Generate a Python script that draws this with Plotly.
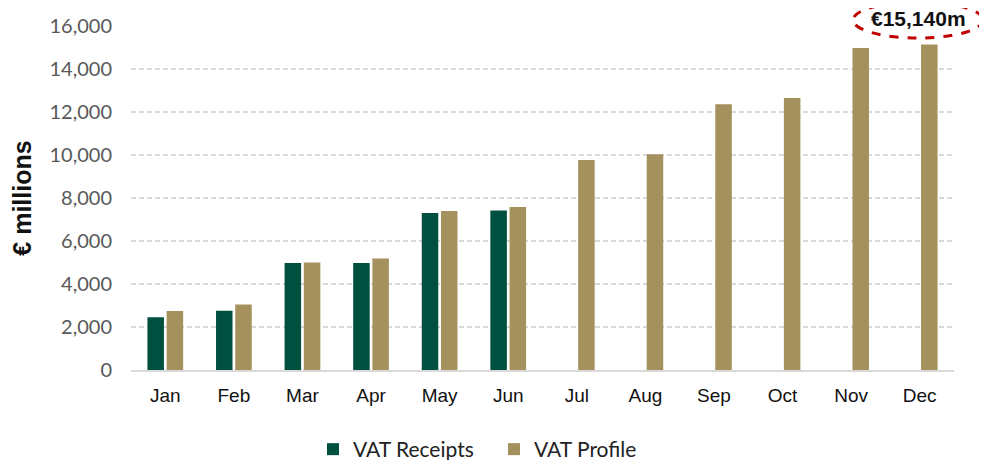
import plotly.graph_objects as go

months = ["Jan", "Feb", "Mar", "Apr", "May", "Jun", "Jul", "Aug", "Sep", "Oct", "Nov", "Dec"]
vat_receipts = [2450, 2760, 4980, 4980, 7300, 7420, None, None, None, None, None, None]
vat_profile = [2750, 3050, 5000, 5190, 7400, 7580, 9770, 10040, 12360, 12650, 14980, 15140]
y_ticks = [0, 2000, 4000, 6000, 8000, 10000, 12000, 14000, 16000]

# page has an 8px body margin, so the figure origin sits at (8, 8)
OFF = 8
W, H = 987 - OFF, 460 - OFF
L, R, T = 131 - OFF, 33, 26 - OFF
B = H - (370 - OFF)
pw, ph = W - L - R, H - T - B

def px(x):
    return (x - OFF - L) / pw

def py(y):
    return (H - B - (y - OFF)) / ph

fig = go.Figure()
fig.add_trace(go.Bar(x=months, y=vat_receipts, name="VAT Receipts",
                     marker=dict(color="#00503F", line=dict(width=0))))
fig.add_trace(go.Bar(x=months, y=vat_profile, name="VAT Profile",
                     marker=dict(color="#A4915D", line=dict(width=0))))

fig.update_layout(
    width=W, height=H,
    margin=dict(l=L, r=R, t=T, b=B, autoexpand=False),
    plot_bgcolor="white", paper_bgcolor="white",
    barmode="group", bargap=0.44, bargroupgap=0.14,
    font=dict(family="Arial, Liberation Sans", color="#333333", size=17),
    legend=dict(orientation="h", x=px(313), xanchor="left", y=py(429), yanchor="top",
                font=dict(family="Lato", size=21, color="#222222"),
                itemwidth=30, entrywidth=136, traceorder="normal"),
    showlegend=True,
)
fig.update_xaxes(showgrid=False, showline=True, linecolor="#d9d9d9", linewidth=2,
                 ticks="", tickfont=dict(family="Arial, Liberation Sans", size=19, color="#111111"),
                 ticklabelstandoff=7)
fig.update_yaxes(range=[0, 16000], tickvals=y_ticks, tickformat=",",
                 showgrid=True, gridcolor="#d9d9d9", griddash="5px,3px", gridwidth=1.5,
                 zeroline=False, showline=False,
                 tickfont=dict(family="Lato", size=20, color="#595959"),
                 ticklabelstandoff=18,
                 title=dict(text="<b>€ millions</b>", font=dict(family="Arial, Liberation Sans", size=25, color="#111111"),
                            standoff=10))

fig.add_shape(type="circle", xref="paper", yref="paper",
              x0=px(853), x1=px(983), y0=py(38), y1=py(2),
              line=dict(color="#C00000", width=3, dash="dash"))
fig.add_annotation(xref="paper", yref="paper", x=px(918), y=py(19),
                   xanchor="center", yanchor="middle",
                   text="<b>€15,140m</b>", showarrow=False,
                   font=dict(family="Arial, Liberation Sans", size=21, color="#111111"))

fig.write_html("out.html")
